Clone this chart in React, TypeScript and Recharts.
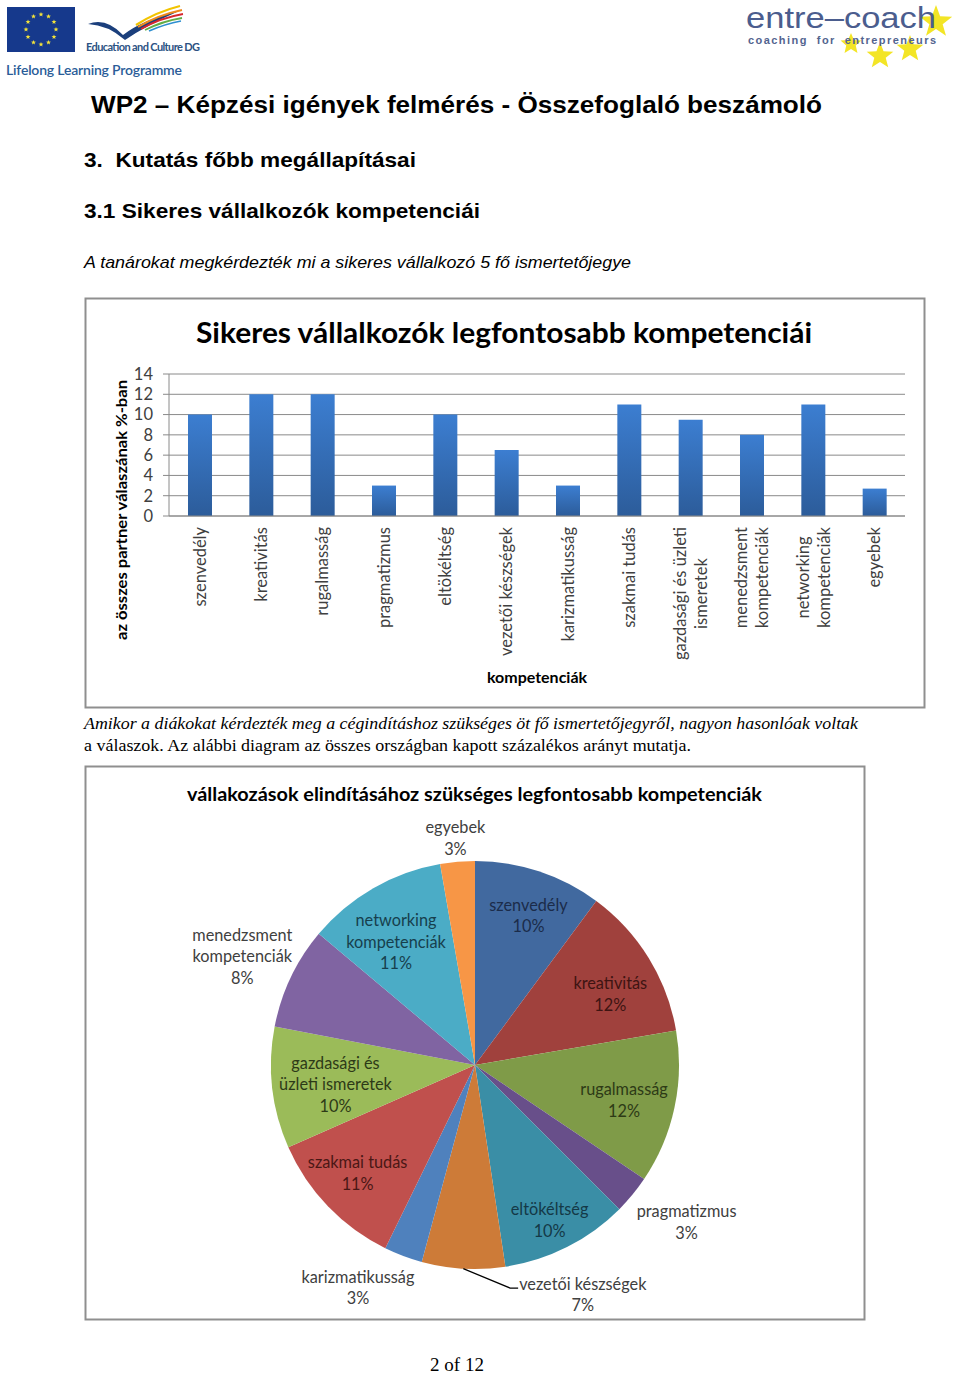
import React from 'react';
import { BarChart, Bar, XAxis, YAxis, CartesianGrid, PieChart, Pie, Cell } from 'recharts';

// competences, same order in both charts
const categories = [
  'szenvedély', 'kreativitás', 'rugalmasság', 'pragmatizmus', 'eltökéltség',
  'vezetői készségek', 'karizmatikusság', 'szakmai tudás',
  'gazdasági és üzleti ismeretek', 'menedzsment kompetenciák',
  'networking kompetenciák', 'egyebek',
];
// % of all partner answers
const shares = [10, 12, 12, 3, 10, 6.5, 3, 11, 9.5, 8, 11, 2.7];
const yTicks = [0, 2, 4, 6, 8, 10, 12, 14];

// how the long names wrap
const barLines: Record<string, string[]> = {
  'gazdasági és üzleti ismeretek': ['gazdasági és üzleti', 'ismeretek'],
  'menedzsment kompetenciák': ['menedzsment', 'kompetenciák'],
  'networking kompetenciák': ['networking', 'kompetenciák'],
};
const pieLines: Record<string, string[]> = {
  'gazdasági és üzleti ismeretek': ['gazdasági és', 'üzleti ismeretek'],
  'menedzsment kompetenciák': ['menedzsment', 'kompetenciák'],
  'networking kompetenciák': ['networking', 'kompetenciák'],
};

const PIE_COLORS = [
  '#41699f', '#a0413d', '#7f9b48', '#684f8a', '#3a8ea6', '#cd7b38',
  '#4f81bd', '#c0504d', '#9bbb59', '#8064a2', '#4bacc6', '#f79646',
];
const PIE_TEXT = [
  '#1b2c4a', '#3e1412', '#2d3a16', '#404040', '#143947', '#404040',
  '#404040', '#4a1715', '#2d3a17', '#404040', '#173f4d', '#404040',
];
// label radius (x outer radius) and angular nudge in degrees
const PIE_LABEL_POS = [
  { r: 0.78, da: 1.4 },
  { r: 0.75, da: 3.8 },
  { r: 0.75, da: 1 },
  { r: 1.29, da: -3 },
  { r: 0.84, da: 1 },
  { r: 1.24, da: -28.5, leader: true },
  { r: 1.23, da: 7.2 },
  { r: 0.78, da: 1.4 },
  { r: 0.69, da: -1.2 },
  { r: 1.26, da: -0.3 },
  { r: 0.72, da: -2.6 },
  { r: 1.12, da: 0 },
];

const FONT = 'Lato, "Open Sans", sans-serif';
const SANS = '"Liberation Sans", Arial, sans-serif';
const SERIF = '"Liberation Serif", "Times New Roman", serif';
const TICK_SIZE = 16.5;
const PIE_SIZE = 16.3;

const barData = categories.map((name, i) => ({ name, value: shares[i] }));
const pieData = categories.map((name, i) => ({ name, value: shares[i] }));

let ctx: CanvasRenderingContext2D | null = null;
const textWidth = (s: string, font: string) => {
  if (!ctx) ctx = document.createElement('canvas').getContext('2d');
  if (!ctx) return s.length * 7.5;
  ctx.font = font;
  return ctx.measureText(s).width;
};

const XTick = ({ x, y, payload }: any) => {
  const lines: string[] = barLines[payload.value] || [payload.value];
  const w = Math.max(...lines.map(l => textWidth(l, `${TICK_SIZE}px Lato`)));
  return (
    <g transform={`translate(${x},${y}) rotate(-90)`}>
      {lines.map((l, i) => (
        <text
          key={i}
          x={-w / 2}
          y={(i - (lines.length - 1) / 2) * 21}
          dominantBaseline="central"
          textAnchor="middle"
          fontSize={TICK_SIZE}
          fontFamily={FONT}
          fill="#404040"
        >
          {l}
        </text>
      ))}
    </g>
  );
};

const renderPieLabel = (p: any) => {
  const { cx, cy, midAngle, outerRadius, percent, index } = p;
  const cfg = PIE_LABEL_POS[index];
  const a = (90 - midAngle + cfg.da) * Math.PI / 180;
  const R = outerRadius * cfg.r;
  const lx = cx + R * Math.sin(a);
  const ly = cy - R * Math.cos(a);
  const name = categories[index];
  const lines = [...(pieLines[name] || [name]), `${Math.round(percent * 100)}%`];
  const lh = 21.5;
  const top = ly - (lines.length - 1) * lh / 2;

  let leader = null;
  if (cfg.leader) {
    const a0 = (90 - midAngle) * Math.PI / 180;
    const sx = cx + outerRadius * Math.sin(a0);
    const sy = cy - outerRadius * Math.cos(a0);
    const left = lx - textWidth(lines[0], `${PIE_SIZE}px Lato`) / 2;
    const y0 = top + 5;
    leader = <path d={`M${sx},${sy} L${left - 9},${y0} L${left - 1},${y0}`} stroke="#000" strokeWidth={1.3} fill="none" />;
  }

  return (
    <g key={`lbl-${index}`}>
      {leader}
      {lines.map((l, i) => (
        <text
          key={i}
          x={lx}
          y={top + i * lh}
          dominantBaseline="central"
          textAnchor="middle"
          fontSize={PIE_SIZE}
          fontFamily={FONT}
          fill={PIE_TEXT[index]}
        >
          {l}
        </text>
      ))}
    </g>
  );
};

const star = (cx: number, cy: number, ro: number, ri: number) => {
  const pts: string[] = [];
  for (let k = 0; k < 10; k++) {
    const r = k % 2 === 0 ? ro : ri;
    const a = (k * 36 - 90) * Math.PI / 180;
    pts.push(`${cx + r * Math.cos(a)},${cy + r * Math.sin(a)}`);
  }
  return pts.join(' ');
};

const Page = () => (
  <svg width={960} height={1374} style={{ position: 'absolute', left: 0, top: 0 }}>
    <rect width={960} height={1374} fill="#fff" />

    {/* EU flag */}
    <rect x={7} y={7} width={68} height={45} fill="#16398c" />
    {Array.from({ length: 12 }).map((_, k) => {
      const a = (k * 30) * Math.PI / 180;
      return <polygon key={k} points={star(41 + 15 * Math.sin(a), 29.5 - 15 * Math.cos(a), 2.6, 1.1)} fill="#f2e23a" />;
    })}
    {/* LLP bird */}
    <path d="M88,24 Q106,17 123,35 Q142,20 179,11 Q147,25 125,40 Q108,25 88,24 Z" fill="#1b3f7c" />
    <path d="M136,25 Q156,12 180,6" stroke="#f2c400" strokeWidth={2.2} fill="none" />
    <path d="M138,27 Q158,15 182,10" stroke="#ef8a1c" strokeWidth={2} fill="none" />
    <path d="M141,29 Q160,18 183,14" stroke="#d7262e" strokeWidth={1.8} fill="none" />
    <path d="M145,30 Q163,21 182,18" stroke="#62ad45" strokeWidth={1.8} fill="none" />
    <path d="M149,31 Q165,24 181,21" stroke="#2e8fd0" strokeWidth={1.6} fill="none" />
    <text x={86} y={51} fontFamily={FONT} fontSize={11} fontWeight={700} fill="#2b5283" textLength={114}>Education and Culture DG</text>
    <text x={6} y={75} fontFamily={FONT} fontSize={14} fontWeight={600} fill="#2a5c98" textLength={176}>Lifelong Learning Programme</text>

    {/* entre-coach */}
    <polygon points={star(936, 22, 17, 7)} fill="#f3e526" />
    <polygon points={star(910, 49, 14, 6)} fill="#f3e526" />
    <polygon points={star(880, 56, 14, 6)} fill="#f3e526" />
    <polygon points={star(851, 44, 11, 5)} fill="#f3e526" />
    <text x={746} y={28} fontFamily={SANS} fontSize={29} fill="#4b5d8e" textLength={190} lengthAdjust="spacingAndGlyphs">entre–coach</text>
    <text x={748} y={44} fontFamily={SANS} fontSize={11} fontWeight={700} fill="#53648f" textLength={188}>{'coaching\u00a0\u00a0for\u00a0\u00a0entrepreneurs'}</text>

    {/* headings */}
    <text x={91} y={113} fontFamily={SANS} fontSize={23} fontWeight={700} fill="#000" textLength={731} lengthAdjust="spacingAndGlyphs">WP2 – Képzési igények felmérés - Összefoglaló beszámoló</text>
    <text x={84} y={167} fontFamily={SANS} fontSize={21} fontWeight={700} fill="#000" textLength={332} lengthAdjust="spacingAndGlyphs">{'3.\u00a0\u00a0Kutatás főbb megállapításai'}</text>
    <text x={84} y={218} fontFamily={SANS} fontSize={21} fontWeight={700} fill="#000" textLength={396} lengthAdjust="spacingAndGlyphs">3.1 Sikeres vállalkozók kompetenciái</text>
    <text x={84} y={268} fontFamily={SANS} fontSize={17} fontStyle="italic" fill="#000" textLength={547} lengthAdjust="spacingAndGlyphs">A tanárokat megkérdezték mi a sikeres vállalkozó 5 fő ismertetőjegye</text>

    {/* bar chart frame and titles */}
    <rect x={85.5} y={298.5} width={839} height={409} fill="none" stroke="#8f8f8f" strokeWidth={2} />
    <text x={196} y={343} fontFamily={FONT} fontSize={28} fontWeight={700} fill="#000" textLength={616} lengthAdjust="spacingAndGlyphs">Sikeres vállalkozók legfontosabb kompetenciái</text>
    <text transform="translate(120,510) rotate(-90)" x={-130} dominantBaseline="central" fontFamily={FONT} fontSize={16} fontWeight={700} fill="#000" textLength={260} lengthAdjust="spacingAndGlyphs">az összes partner válaszának %-ban</text>
    <text x={537} y={683} textAnchor="middle" fontFamily={FONT} fontSize={16} fontWeight={700} fill="#000">kompetenciák</text>

    {/* paragraph */}
    <text x={84} y={729} fontFamily={SERIF} fontSize={17} fontStyle="italic" fill="#000" textLength={774} lengthAdjust="spacingAndGlyphs">Amikor a diákokat kérdezték meg a cégindításhoz szükséges öt fő ismertetőjegyről, nagyon hasonlóak voltak</text>
    <text x={84} y={751} fontFamily={SERIF} fontSize={17} fill="#000" textLength={607} lengthAdjust="spacingAndGlyphs">a válaszok. Az alábbi diagram az összes országban kapott százalékos arányt mutatja.</text>

    {/* pie frame and title */}
    <rect x={85.5} y={766.5} width={779} height={553} fill="none" stroke="#8f8f8f" strokeWidth={2} />
    <text x={187} y={801} fontFamily={FONT} fontSize={19.5} fontWeight={700} fill="#000" textLength={575} lengthAdjust="spacingAndGlyphs">vállakozások elindításához szükséges legfontosabb kompetenciák</text>

    <text x={457} y={1371} textAnchor="middle" fontFamily={SERIF} fontSize={19} fill="#000">2 of 12</text>
  </svg>
);

export default function App() {
  return (
    <div style={{ position: 'absolute', left: 0, top: 0, width: 960, height: 1374, background: '#fff' }}>
      <Page />

      <div style={{ position: 'absolute', left: 85, top: 298 }}>
        <BarChart width={840} height={410} data={barData} margin={{ top: 76, right: 20, left: 0, bottom: 0 }}>
          <defs>
            <linearGradient id="barGrad" x1="0" y1="0" x2="0" y2="1">
              <stop offset="0%" stopColor="#3c7ed1" />
              <stop offset="100%" stopColor="#2c5c9a" />
            </linearGradient>
          </defs>
          <CartesianGrid vertical={false} stroke="#8a8a8a" />
          <XAxis
            dataKey="name"
            interval={0}
            height={192}
            tickSize={0}
            tickMargin={11}
            axisLine={{ stroke: '#8a8a8a' }}
            tick={(props: any) => <XTick {...props} />}
          />
          <YAxis
            width={84}
            domain={[0, 14]}
            ticks={yTicks}
            interval={0}
            tickSize={6}
            tickMargin={10}
            axisLine={{ stroke: '#8a8a8a' }}
            tickLine={{ stroke: '#8a8a8a' }}
            tick={{ fontSize: 16.5, fontFamily: FONT, fill: '#404040' }}
          />
          <Bar dataKey="value" fill="url(#barGrad)" barSize={24} isAnimationActive={false} />
        </BarChart>
      </div>

      <div style={{ position: 'absolute', left: 85, top: 766 }}>
        <PieChart width={780} height={554} margin={{ top: 0, right: 0, bottom: 0, left: 0 }}>
          <Pie
            data={pieData}
            dataKey="value"
            nameKey="name"
            cx={390}
            cy={299}
            outerRadius={204}
            startAngle={90}
            endAngle={-270}
            stroke="none"
            label={renderPieLabel}
            labelLine={false}
            isAnimationActive={false}
          >
            {pieData.map((d, i) => (
              <Cell key={d.name} fill={PIE_COLORS[i]} />
            ))}
          </Pie>
        </PieChart>
      </div>
    </div>
  );
}
